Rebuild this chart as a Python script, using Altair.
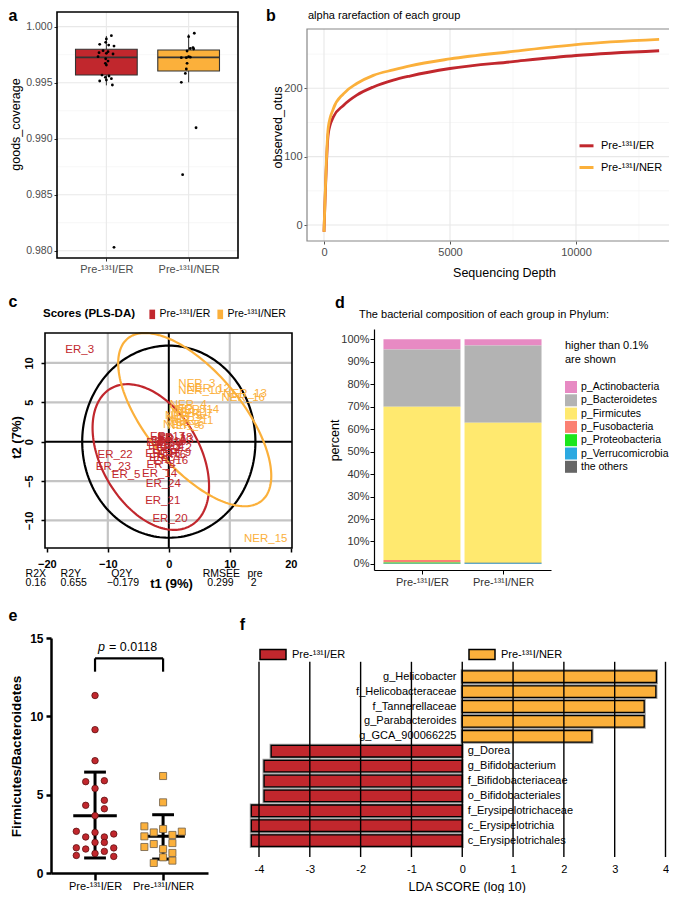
import math
import altair as alt
import pandas as pd

# ------------------------------------------------------------------ data
ER = "Pre-¹³¹I/ER"
NER = "Pre-¹³¹I/NER"
GROUPS = [ER, NER]
GROUP_COLORS = ["#C1272D", "#FBB03B"]

# (a) Good's coverage boxplot
A_Q1 = [0.99568, 0.99604]
A_MEDIAN = [0.99726, 0.99726]
A_Q3 = [0.99798, 0.99792]
A_WHISKER_LO = [0.99476, 0.99503]
A_WHISKER_HI = [0.99917, 0.99932]
A_ER_VALUES = [0.99920, 0.99890, 0.99860, 0.99842, 0.99836, 0.99827, 0.99786, 0.99777,
               0.99768, 0.99762, 0.99756, 0.99732, 0.99714, 0.99693, 0.99673, 0.99658,
               0.99568, 0.99560, 0.99548, 0.99536, 0.99524, 0.99515, 0.99479, 0.98030]
A_ER_JITTER = [0.061, 0.0, -0.008, -0.081, 0.028, 0.093, -0.040, 0.020, -0.089, 0.0, 0.081,
               -0.101, -0.008, 0.020, -0.012, 0.0, -0.053, 0.032, -0.012, 0.061, 0.0, -0.081,
               0.073, 0.093]
A_NER_VALUES = [0.99941, 0.99911, 0.99813, 0.99801, 0.99805, 0.99783, 0.99723, 0.99732,
                0.99723, 0.99728, 0.99673, 0.99622, 0.99583, 0.99503, 0.99098, 0.98679]
A_NER_JITTER = [0.069, 0.0, 0.053, 0.061, 0.020, -0.019, -0.089, 0.0, -0.028, 0.020, -0.019,
                -0.028, -0.040, -0.089, 0.090, -0.073]
A_Y_TICKS = [0.980, 0.985, 0.990, 0.995, 1.000]
A_Y_MINOR = [0.9825, 0.9875, 0.9925, 0.9975]

# (b) rarefaction curves
B_DEPTH = [0, 170, 370, 770, 1300, 1960, 2750, 3410, 5000, 7500, 10000, 13300]
B_ER = [-10, 134, 158, 175, 190, 202, 212, 218, 229, 239, 248, 255]
B_NER = [-10, 143, 170, 192, 207, 219, 227, 233, 243, 254, 264, 271.5]
B_X_TICKS = [0, 5000, 10000]
B_X_MINOR = [2500, 7500, 12500]
B_Y_TICKS = [0, 100, 200]
B_Y_MINOR = [50, 150, 250]

# (c) PLS-DA scores
C_ER_NAMES = ["ER_3", "ER_22", "ER_23", "ER_5", "ER_14", "ER_24", "ER_21", "ER_20",
              "ER_1", "ER_2", "ER_4", "ER_6", "ER_7", "ER_8", "ER_9", "ER_10",
              "ER_11", "ER_12", "ER_13", "ER_15", "ER_16", "ER_17", "ER_18", "ER_19"]
C_ER_T1 = [-14.6, -8.8, -9.1, -7.0, -1.5, -0.9, -1.0, 0.2,
           0.5, 0.2, -0.4, 0.5, -0.9, -1.3, 1.3, 0.0, -0.6, 0.9, 1.2, -1.0, 0.3, -0.2, 1.0, -0.8]
C_ER_T2 = [11.7, -1.7, -3.2, -4.2, -4.1, -5.4, -7.5, -9.8,
           0.4, -0.4, -1.1, -1.7, -2.1, -2.9, -1.5, 0.0, -0.5, -0.8, 0.2, -1.6, -2.4, 0.6, 0.5, -0.2]
C_NER_NAMES = ["NER_3", "NER_10", "NER_12", "NER_13", "NER_16", "NER_15",
               "NER_4", "NER_14", "NER_1", "NER_2", "NER_5", "NER_6", "NER_7", "NER_8",
               "NER_9", "NER_11"]
C_NER_T1 = [4.6, 5.1, 6.5, 12.5, 12.2, 15.9, 3.2, 4.7, 3.5, 2.6, 2.1, 2.8, 4.2, 3.0, 2.4, 3.8]
C_NER_T2 = [7.3, 6.4, 6.7, 6.0, 5.6, -12.3, 4.7, 4.0, 3.6, 2.8, 2.1, 2.0, 3.5, 4.0, 3.3, 2.6]
# ellipses: centre t1, centre t2, half-width, half-height, correlation
C_ELLIPSE_T2 = [0.0, 0.0, 14.2, 12.2, 0.0]
C_ELLIPSE_ER = [-2.95, -1.95, 9.55, 9.25, -0.40]
C_ELLIPSE_NER = [4.25, 2.8, 12.55, 11.0, -0.65]
C_X_TICKS = [-20, -10, 0, 10, 20]
C_Y_TICKS = [-10, -5, 0, 5, 10]
C_GRID_X = [-10, 10]
C_GRID_Y = [-10, -5, 5, 10]
C_STAT_NAMES = ["R2X", "R2Y", "Q2Y", "RMSEE", "pre"]
C_STAT_VALUES = ["0.16", "0.655", "−0.179", "0.299", "2"]

# (d) phylum composition (%)
D_PHYLA = ["p_Actinobacteria", "p_Bacteroidetes", "p_Firmicutes", "p_Fusobacteria",
           "p_Proteobacteria", "p_Verrucomicrobia", "the others"]
D_COLORS = ["#E78AC3", "#B3B3B3", "#FFE96F", "#FB8072", "#1CE61C", "#2CA9E1", "#666666"]
D_ER = [4.5, 25.5, 68.2, 1.2, 0.4, 0.1, 0.1]
D_NER = [2.8, 34.3, 62.2, 0.2, 0.1, 0.3, 0.1]
D_Y_TICKS = [0, 10, 20, 30, 40, 50, 60, 70, 80, 90, 100]

# (e) Firmicutes / Bacteroidetes
E_ER = [11.33, 9.15, 7.17, 5.83, 5.89, 5.40, 4.32, 4.64, 4.10, 3.66, 2.66, 2.59, 2.49,
        2.30, 2.30, 1.95, 1.95, 1.61, 1.53, 1.60, 1.38, 1.25, 1.12, 1.06]
E_ER_SPREAD = [0, 0, 0, -0.137, 0.137, 0, -0.137, 0.137, 0.137, 0, -0.275, 0, 0.275,
               -0.137, 0.137, 0, 0.137, -0.275, -0.137, 0.275, 0.137, 0, -0.275, 0.275]
E_NER = [6.19, 4.51, 2.98, 2.59, 2.81, 2.64, 2.34, 2.43, 1.85, 1.91, 1.66, 1.53, 1.28,
         1.00, 0.79, 0.64]
E_NER_SPREAD = [0, 0, -0.275, -0.137, 0, 0.275, -0.275, 0.137, -0.137, 0.137, -0.275, 0,
                0.137, 0, 0.137, -0.137]
E_MEAN = [3.66, 2.34]
E_SD_HI = [6.44, 3.72]
E_SD_LO = [0.96, 0.89]
E_Y_TICKS = [0, 5, 10, 15]
E_BRACKET = [12.85, 13.7]
E_P_TEXT = ["p", "= 0.0118"]

# (f) LEfSe
F_TAXA = ["g_Helicobacter", "f_Helicobacteraceae", "f_Tannerellaceae", "g_Parabacteroides",
          "g_GCA_900066225", "g_Dorea", "g_Bifidobacterium", "f_Bifidobacteriaceae",
          "o_Bifidobacteriales", "f_Erysipelotrichaceae", "c_Erysipelotrichia",
          "c_Erysipelotrichales"]
F_LDA = [3.82, 3.81, 3.58, 3.58, 2.55, -3.76, -3.90, -3.90, -3.90, -4.15, -4.15, -4.15]
F_X_TICKS = [-4, -3, -2, -1, 0, 1, 2, 3, 4]

# ------------------------------------------------------------------ layout (page px)
W, H = 661, 885
FONT = "Liberation Sans"


def P(v):
    return v - 8


def lin(domain, r0, r1, **kw):
    return alt.Scale(domain=list(domain), range=[P(r0), P(r1)], nice=False, zero=False, **kw)


def axis(orient, pos, **kw):
    base = dict(grid=False, labelFlush=False, labelOverlap=False)
    base.update(kw)
    off = P(pos) - H if orient == "bottom" else -P(pos)
    return alt.Axis(orient=orient, offset=off, **base)


GROUP_EXPR = f"datum.value == 1 ? '{ER}' : '{NER}'"
GROUP_SCALE = alt.Scale(domain=GROUPS, range=GROUP_COLORS)


def const_df(vals, lo, hi):
    return pd.DataFrame({"v": vals, "lo": [lo] * len(vals), "hi": [hi] * len(vals)})


class Panel:
    """x / y encodings sharing one scale and one axis definition inside a panel."""

    def __init__(self, xs, ys, xa=None, ya=None):
        self.xs, self.ys, self.xa, self.ya = xs, ys, xa, ya

    def X(self, f):
        return alt.X(f, scale=self.xs, axis=self.xa)

    def Y(self, f, **kw):
        return alt.Y(f, scale=self.ys, axis=self.ya, **kw)

    def hlines(self, vals, xdom, **mk):
        return alt.Chart(const_df(vals, *xdom)).mark_rule(**mk).encode(
            x=self.X("lo:Q"), x2="hi:Q", y=self.Y("v:Q"))

    def vlines(self, vals, ydom, **mk):
        return alt.Chart(const_df(vals, *ydom)).mark_rule(**mk).encode(
            x=self.X("v:Q"), y=self.Y("lo:Q"), y2="hi:Q")

    def frame(self, xdom, ydom, **mk):
        d = pd.DataFrame({"x0": [xdom[0]], "x1": [xdom[1]], "y0": [ydom[0]], "y1": [ydom[1]]})
        return alt.Chart(d).mark_rect(fill="transparent", **mk).encode(
            x=self.X("x0:Q"), x2="x1:Q", y=self.Y("y0:Q"), y2="y1:Q")


AX_GREY = "#4D4D4D"
TITLE_STYLE = dict(titleAlign="center", titleBaseline="middle", titleColor="black")

# ------------------------------------------------------------------ panel a
a_xdom, a_ydom = [0.4, 2.6], [0.97935, 1.00131]
pa = Panel(
    lin(a_xdom, 57, 238), lin(a_ydom, 258, 12),
    axis("bottom", 258, values=[1, 2], labelExpr=GROUP_EXPR, title=None, domain=False,
         tickSize=3, tickColor="#333333", labelFontSize=11, labelColor=AX_GREY, labelPadding=2),
    axis("left", 57, values=A_Y_TICKS, format=".3f", domain=False, tickSize=3,
         tickColor="#333333", labelFontSize=10.5, labelColor=AX_GREY, labelPadding=2,
         title="goods_coverage", titleX=15 - 57, titleY=P(124), titleFontSize=12.5,
         titleFontWeight="normal", **TITLE_STYLE))
a_box = pd.DataFrame({"g": GROUPS, "i": [1, 2], "q1": A_Q1, "q3": A_Q3, "med": A_MEDIAN,
                      "lo": A_WHISKER_LO, "hi": A_WHISKER_HI})
a_box["l"] = a_box["i"] - 0.375
a_box["r"] = a_box["i"] + 0.375
a_pts = pd.DataFrame({
    "x": [1 + j for j in A_ER_JITTER] + [2 + j for j in A_NER_JITTER],
    "y": A_ER_VALUES + A_NER_VALUES})
panel_a = alt.layer(
    pa.hlines(A_Y_MINOR, a_xdom, color="#F2F2F2", strokeWidth=0.6),
    pa.hlines(A_Y_TICKS, a_xdom, color="#E8E8E8", strokeWidth=1.1),
    pa.vlines([1, 2], a_ydom, color="#E8E8E8", strokeWidth=1.1),
    alt.Chart(a_box).mark_rule(color="#333333", strokeWidth=1).encode(
        x=pa.X("i:Q"), y=pa.Y("lo:Q"), y2="q1:Q"),
    alt.Chart(a_box).mark_rule(color="#333333", strokeWidth=1).encode(
        x=pa.X("i:Q"), y=pa.Y("q3:Q"), y2="hi:Q"),
    alt.Chart(a_box).mark_rect(stroke="#333333", strokeWidth=1.1).encode(
        x=pa.X("l:Q"), x2="r:Q", y=pa.Y("q1:Q"), y2="q3:Q",
        color=alt.Color("g:N", scale=GROUP_SCALE, legend=None)),
    alt.Chart(a_box).mark_rule(color="#333333", strokeWidth=1.6).encode(
        x=pa.X("l:Q"), x2="r:Q", y=pa.Y("med:Q")),
    alt.Chart(a_pts).mark_circle(size=8, color="black", opacity=1).encode(
        x=pa.X("x:Q"), y=pa.Y("y:Q")),
    pa.frame(a_xdom, a_ydom, stroke="black", strokeWidth=1.6),
)

# ------------------------------------------------------------------ panel b
b_xdom, b_ydom = [-675, 13890], [-23.4, 286.8]
pb = Panel(
    lin(b_xdom, 307, 674), lin(b_ydom, 241, 29),
    axis("bottom", 241, values=B_X_TICKS, format="d", domain=False, tickSize=3,
         tickColor="#555555", labelFontSize=11, labelColor=AX_GREY, labelPadding=2,
         title="Sequencing Depth", titleX=P(504), titleY=272 - 241, titleFontSize=12.5,
         titleFontWeight="normal", **TITLE_STYLE),
    axis("left", 307, values=B_Y_TICKS, format="d", domain=False, tickSize=3,
         tickColor="#555555", labelFontSize=11, labelColor=AX_GREY, labelPadding=2,
         title="observed_otus", titleX=277 - 307, titleY=P(127), titleFontSize=12.5,
         titleFontWeight="normal", **TITLE_STYLE))
b_df = pd.DataFrame({"depth": B_DEPTH * 2, "otus": B_ER + B_NER,
                     "g": [ER] * len(B_DEPTH) + [NER] * len(B_DEPTH)})
panel_b = alt.layer(
    pb.hlines(B_Y_MINOR, b_xdom, color="#F2F2F2", strokeWidth=0.6),
    pb.vlines(B_X_MINOR, b_ydom, color="#F2F2F2", strokeWidth=0.6),
    pb.hlines(B_Y_TICKS, b_xdom, color="#E8E8E8", strokeWidth=1.1),
    pb.vlines(B_X_TICKS, b_ydom, color="#E8E8E8", strokeWidth=1.1),
    alt.Chart(b_df).mark_line(strokeWidth=2.8, interpolate="monotone").encode(
        x=pb.X("depth:Q"), y=pb.Y("otus:Q"),
        color=alt.Color("g:N", scale=GROUP_SCALE, legend=alt.Legend(
            orient="none", legendX=P(578), legendY=P(144.3) - 7, title=None,
            symbolType="stroke", symbolSize=196, symbolStrokeWidth=3, labelFontSize=11,
            labelColor="black", labelOffset=6, rowPadding=6.7, padding=0))),
    pb.frame(b_xdom, b_ydom, stroke="#888888", strokeWidth=1.2),
)

# ------------------------------------------------------------------ panel c
c_xdom, c_ydom = [-20.3, 20.2], [-13.5, 13.8]
pc = Panel(
    lin(c_xdom, 45, 292), lin(c_ydom, 548, 333, clamp=True),
    axis("bottom", 548, values=C_X_TICKS, domain=False, tickSize=4, tickWidth=1.5,
         tickColor="black", labelFontSize=11, labelFontWeight="bold", labelColor="black",
         labelPadding=6, title="t1 (9%)", titleX=P(171), titleY=583 - 548, titleFontSize=13,
         titleFontWeight="bold", **TITLE_STYLE),
    axis("left", 45, values=C_Y_TICKS, domain=False, tickSize=4, tickWidth=1.5,
         tickColor="black", labelFontSize=11, labelFontWeight="bold", labelColor="black",
         labelAngle=270, labelPadding=7, title="t2 (7%)", titleX=16 - 45, titleY=P(437),
         titleFontSize=13, titleFontWeight="bold", **TITLE_STYLE))


def ellipse_df(p):
    cx, cy, hw, hh, rho = p
    phi = math.acos(rho)
    n = 180
    ts = [2 * math.pi * k / n for k in range(n + 1)]
    return pd.DataFrame({"k": list(range(n + 1)),
                         "x": [cx + hw * math.cos(t) for t in ts],
                         "y": [cy + hh * math.cos(t + phi) for t in ts]})


def ellipse_layer(p, color):
    return alt.Chart(ellipse_df(p)).mark_line(color=color, strokeWidth=2.2).encode(
        x=pc.X("x:Q"), y=pc.Y("y:Q"), order=alt.Order("k:Q"))


c_lab = pd.DataFrame({"name": C_ER_NAMES + C_NER_NAMES, "t1": C_ER_T1 + C_NER_T1,
                      "t2": C_ER_T2 + C_NER_T2,
                      "g": [ER] * len(C_ER_NAMES) + [NER] * len(C_NER_NAMES)})
panel_c = alt.layer(
    pc.vlines(C_GRID_X, c_ydom, color="#C4C4C4", strokeWidth=2.2),
    pc.hlines(C_GRID_Y, c_xdom, color="#C4C4C4", strokeWidth=2.2),
    pc.vlines([0], c_ydom, color="black", strokeWidth=2),
    pc.hlines([0], c_xdom, color="black", strokeWidth=2),
    ellipse_layer(C_ELLIPSE_T2, "black"),
    ellipse_layer(C_ELLIPSE_ER, GROUP_COLORS[0]),
    ellipse_layer(C_ELLIPSE_NER, GROUP_COLORS[1]),
    alt.Chart(c_lab).mark_text(fontSize=11.5, baseline="middle", align="center").encode(
        x=pc.X("t1:Q"), y=pc.Y("t2:Q"), text="name:N",
        color=alt.Color("g:N", scale=GROUP_SCALE, legend=alt.Legend(
            orient="none", legendX=P(43), legendY=P(309), direction="horizontal",
            title="Scores (PLS-DA)", titleOrient="left", titleFontWeight="bold",
            titleFontSize=11.5, titleColor="black", titlePadding=11,
            symbolType="M-0.6,-1H0.6V1H-0.6Z", symbolSize=90, symbolStrokeWidth=0,
            labelFontSize=10.5, labelColor="black", labelOffset=2, columnPadding=4,
            padding=0))),
    pc.frame(c_xdom, c_ydom, stroke="black", strokeWidth=1.6),
)

# ------------------------------------------------------------------ panel d
d_xdom, d_ydom = [0.47, 2.53], [-2.7, 104.6]
pd_ = Panel(
    lin(d_xdom, 374, 551), lin(d_ydom, 570, 329),
    axis("bottom", 570, values=[1, 2], labelExpr=GROUP_EXPR, title=None,
         domainColor="black", domainWidth=1.2, tickSize=4, tickColor="black",
         labelFontSize=11, labelColor="#333333", labelPadding=2),
    axis("left", 374, values=D_Y_TICKS, labelExpr="datum.value + '%'",
         domainColor="black", domainWidth=1.2, tickSize=4, tickColor="black",
         labelFontSize=11, labelColor="#333333", labelPadding=1,
         title="percent", titleX=334 - 374, titleY=P(440), titleFontSize=12.5,
         titleFontWeight="normal", **TITLE_STYLE))
n_ph = len(D_PHYLA)
d_df = pd.DataFrame({"i": [1] * n_ph + [2] * n_ph, "phylum": D_PHYLA * 2, "pct": D_ER + D_NER,
                     "rank": list(range(n_ph, 0, -1)) * 2})
panel_d = alt.layer(
    alt.Chart(d_df).mark_bar(size=77).encode(
        x=pd_.X("i:Q"), y=pd_.Y("pct:Q", stack="zero"),
        color=alt.Color("phylum:N", scale=alt.Scale(domain=D_PHYLA, range=D_COLORS),
                        legend=alt.Legend(
                            orient="none", legendX=P(565), legendY=P(340),
                            title=["higher than 0.1%", "are shown"], titleFontSize=11,
                            titleFontWeight="normal", titleColor="black", titleLineHeight=14,
                            titlePadding=16, symbolType="square", symbolSize=144,
                            symbolStrokeWidth=0, labelFontSize=10.5, labelColor="black",
                            labelOffset=4, rowPadding=1.3, padding=0)),
        order=alt.Order("rank:Q", sort="ascending")),
)

# ------------------------------------------------------------------ panel e
e_xdom, e_ydom = [0.353, 2.66], [0, 15]
pe = Panel(
    lin(e_xdom, 51, 208), lin(e_ydom, 873, 638),
    axis("bottom", 873, values=[1, 2], labelExpr=GROUP_EXPR, title=None,
         domainColor="black", domainWidth=2.5, tickSize=7, tickWidth=2.5,
         tickColor="black", labelFontSize=11, labelColor="black", labelPadding=0),
    axis("left", 51, values=E_Y_TICKS, domainColor="black", domainWidth=2.5,
         tickSize=5, tickWidth=2.5, tickColor="black", labelFontSize=12,
         labelFontWeight="bold", labelColor="black", labelPadding=3,
         title="Firmicutes/Bacteroidetes", titleX=16 - 51, titleY=P(756),
         titleFontSize=13.5, titleFontWeight="bold", **TITLE_STYLE))
e_stats = pd.DataFrame({"i": [1, 2], "m": E_MEAN, "hi": E_SD_HI, "lo": E_SD_LO})
e_stats["ml"], e_stats["mr"] = e_stats["i"] - 0.32, e_stats["i"] + 0.32
e_stats["cl"], e_stats["cr"] = e_stats["i"] - 0.16, e_stats["i"] + 0.16
e_er = pd.DataFrame({"x": [1 + s for s in E_ER_SPREAD], "y": E_ER})
e_ner = pd.DataFrame({"x": [2 + s for s in E_NER_SPREAD], "y": E_NER})
e_br = pd.DataFrame({"x0": [1], "x1": [2], "lo": [E_BRACKET[0]], "hi": [E_BRACKET[1]]})
e_ptext = pd.DataFrame({"x": [1.147], "y": [14.4], "t": [E_P_TEXT[0]]})
e_ptext2 = pd.DataFrame({"x": [1.206], "y": [14.4], "t": [E_P_TEXT[1]]})
panel_e = alt.layer(
    alt.Chart(e_stats).mark_rule(color="black", strokeWidth=3).encode(
        x=pe.X("i:Q"), y=pe.Y("lo:Q"), y2="hi:Q"),
    alt.Chart(e_stats).mark_rule(color="black", strokeWidth=3).encode(
        x=pe.X("ml:Q"), x2="mr:Q", y=pe.Y("m:Q")),
    alt.Chart(e_stats).mark_rule(color="black", strokeWidth=3).encode(
        x=pe.X("cl:Q"), x2="cr:Q", y=pe.Y("hi:Q")),
    alt.Chart(e_stats).mark_rule(color="black", strokeWidth=3).encode(
        x=pe.X("cl:Q"), x2="cr:Q", y=pe.Y("lo:Q")),
    alt.Chart(e_br).mark_rule(color="black", strokeWidth=2.2).encode(
        x=pe.X("x0:Q"), x2="x1:Q", y=pe.Y("hi:Q")),
    alt.Chart(e_br).mark_rule(color="black", strokeWidth=2.2).encode(
        x=pe.X("x0:Q"), y=pe.Y("lo:Q"), y2="hi:Q"),
    alt.Chart(e_br).mark_rule(color="black", strokeWidth=2.2).encode(
        x=pe.X("x1:Q"), y=pe.Y("lo:Q"), y2="hi:Q"),
    alt.Chart(e_ptext).mark_text(fontSize=12.5, fontStyle="italic", align="right",
                                 baseline="middle").encode(
        x=pe.X("x:Q"), y=pe.Y("y:Q"), text="t:N"),
    alt.Chart(e_ptext2).mark_text(fontSize=12.5, align="left", baseline="middle").encode(
        x=pe.X("x:Q"), y=pe.Y("y:Q"), text="t:N"),
    alt.Chart(e_er).mark_point(shape="circle", filled=True, size=42, fill=GROUP_COLORS[0],
                               stroke="#5E1212", strokeWidth=0.8, opacity=1).encode(
        x=pe.X("x:Q"), y=pe.Y("y:Q")),
    alt.Chart(e_ner).mark_point(shape="square", filled=True, size=50, fill=GROUP_COLORS[1],
                                stroke="#6E5E48", strokeWidth=0.8, opacity=1).encode(
        x=pe.X("x:Q"), y=pe.Y("y:Q")),
)

# ------------------------------------------------------------------ panel f
f_xdom, f_ydom = [-4, 4], [0, 11]
pf = Panel(
    lin(f_xdom, 259, 665.5), lin(f_ydom, 676.7, 840.6),
    axis("bottom", 857, values=F_X_TICKS, domain=False, ticks=False,
         labelExpr="replace(datum.label, '−', '-')", labelFontSize=11,
         labelColor="black", labelPadding=6, title="LDA SCORE (log 10)",
         titleX=P(466.7), titleY=886 - 857, titleFontSize=12.5,
         titleFontWeight="normal", **TITLE_STYLE),
    None)
f_df = pd.DataFrame({"taxon": F_TAXA, "lda": F_LDA, "row": list(range(len(F_TAXA)))})
f_df["g"] = [NER if v > 0 else ER for v in F_LDA]
f_df["zero"] = 0.0
f_df["y0"], f_df["y1"] = f_df["row"] - 0.39, f_df["row"] + 0.39
f_pos = f_df[f_df["lda"] > 0].assign(lx=-0.115)
f_neg = f_df[f_df["lda"] < 0].assign(lx=0.11)
panel_f = alt.layer(
    alt.Chart(f_df).mark_rect(fill="transparent", stroke="#9A9A9A", strokeWidth=3.2).encode(
        x=pf.X("zero:Q"), x2="lda:Q", y=pf.Y("y0:Q"), y2="y1:Q"),
    alt.Chart(f_df).mark_rect(stroke="black", strokeWidth=1.3).encode(
        x=pf.X("zero:Q"), x2="lda:Q", y=pf.Y("y0:Q"), y2="y1:Q",
        color=alt.Color("g:N", scale=GROUP_SCALE, legend=alt.Legend(
            orient="none", legendX=P(259), legendY=P(640.5), direction="horizontal",
            title=None, symbolType="M-1,-0.38H1V0.38H-1Z", symbolSize=676,
            symbolStrokeColor="black", symbolStrokeWidth=1.5, labelFontSize=11,
            labelColor="black", labelOffset=5, columnPadding=120, padding=0))),
    pf.vlines(F_X_TICKS, [-1.0, 12.1], color="black", strokeWidth=1.4),
    alt.Chart(f_pos).mark_text(fontSize=11, align="right", baseline="middle").encode(
        x=pf.X("lx:Q"), y=pf.Y("row:Q"), text="taxon:N"),
    alt.Chart(f_neg).mark_text(fontSize=11, align="left", baseline="middle").encode(
        x=pf.X("lx:Q"), y=pf.Y("row:Q"), text="taxon:N"),
)

# ------------------------------------------------------------------ annotations
pann = Panel(lin([0, 677], 0, 677), lin([0, 901], 0, 901))
LETTERS_LEFT = [("a", 8.5, 21), ("c", 8.5, 307), ("e", 8.5, 621)]
LETTERS_MID = [("b", 271, 21), ("d", 340, 308), ("f", 242.5, 630)]
TITLES = [("alpha rarefaction of each group", 308, 16),
          ("The bacterial composition of each group in Phylum:", 359, 315)]
STAT_X = [35.8, 70.8, 121.7, 221.3, 255]
STAT_VX = [35.8, 73.7, 123, 220.5, 253.7]
STATS = ([(n, x, 574) for n, x in zip(C_STAT_NAMES, STAT_X)] +
         [(v, x, 583) for v, x in zip(C_STAT_VALUES, STAT_VX)])


def ann_text(rows, baseline="middle", **mk):
    d = pd.DataFrame(rows, columns=["t", "x", "y"])
    return alt.Chart(d).mark_text(baseline=baseline, **mk).encode(
        x=pann.X("x:Q"), y=pann.Y("y:Q"), text="t:N")


annotations = alt.layer(
    ann_text(LETTERS_LEFT, baseline="alphabetic", fontSize=16, fontWeight="bold",
             align="left"),
    ann_text(LETTERS_MID, baseline="alphabetic", fontSize=16, fontWeight="bold",
             align="center"),
    ann_text(TITLES, fontSize=11, align="left"),
    ann_text(STATS, fontSize=10.5, align="center"),
)

chart = (
    alt.layer(panel_a, panel_b, panel_c, panel_d, panel_e, panel_f, annotations)
    .resolve_scale(x="independent", y="independent", color="independent")
    .resolve_axis(x="independent", y="independent")
    .resolve_legend(color="independent")
    .properties(width=W, height=H, autosize=alt.AutoSizeParams(type="none"), padding=0)
    .configure(font=FONT)
    .configure_view(stroke=None)
    .configure_text(font=FONT, color="black")
    .configure_axis(labelFont=FONT, titleFont=FONT)
    .configure_legend(labelFont=FONT, titleFont=FONT)
)

chart.save("out.html", embed_options={"renderer": "svg", "actions": False})
